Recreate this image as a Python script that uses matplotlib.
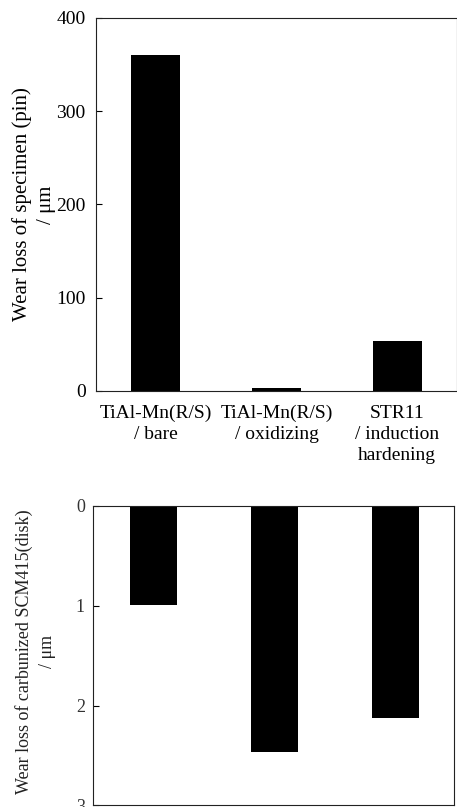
import matplotlib
matplotlib.use("Agg")
import matplotlib.pyplot as plt

# --- data ---
categories = ["TiAl-Mn(R/S)\n/ bare", "TiAl-Mn(R/S)\n/ oxidizing", "STR11\n/ induction\nhardening"]
pin_wear = [360, 3.5, 54]        # um, specimen (pin)
disk_wear = [0.99, 2.47, 2.12]   # um, carburized SCM415 (disk)
pin_ticks = [0, 100, 200, 300, 400]
disk_ticks = [0, 1, 2, 3]

plt.rcParams["font.family"] = ["Liberation Serif", "DejaVu Serif"]

fig = plt.figure(figsize=(4.57, 8.07), dpi=100)

# --- top panel: pin ---
ax1 = fig.add_axes([0.209, 0.5155, 0.790, 0.4622])
x = range(len(categories))
ax1.bar(x, pin_wear, width=0.41, color="black")
ax1.set_xlim(-0.497, 2.49)
ax1.set_ylim(0, 400)
ax1.set_yticks(pin_ticks)
ax1.set_xticks(list(x))
ax1.set_xticklabels(categories, fontsize=14, linespacing=1.3)
ax1.tick_params(axis="y", direction="in", length=4, width=0.8, labelsize=14, pad=7)
ax1.tick_params(axis="x", length=0, pad=10)
ax1.set_ylabel("Wear loss of specimen (pin)\n/ \u03bcm", fontsize=15, linespacing=1.35)
ax1.yaxis.set_label_coords(-0.11, 0.5)
for s in ax1.spines.values():
    s.set_linewidth(0.8)
    s.set_color("#222222")

# --- bottom panel: disk (inverted) ---
ax2 = fig.add_axes([0.204, 0.002, 0.789, 0.371])
ax2.bar(x, disk_wear, width=0.39, color="black")
ax2.set_xlim(-0.50, 2.48)
ax2.set_ylim(3, 0)
ax2.set_yticks(disk_ticks)
ax2.set_xticks([])
ax2.tick_params(axis="y", direction="in", length=4, width=0.8, labelsize=13, pad=6, labelcolor="#333333")
ax2.set_ylabel("Wear loss of carbunized SCM415(disk)\n/ \u03bcm", fontsize=13, linespacing=1.5,
               color="#222222")
ax2.yaxis.set_label_coords(-0.103, 0.515)
for s in ax2.spines.values():
    s.set_linewidth(0.8)
    s.set_color("#222222")

fig.savefig("out.png", dpi=100)
